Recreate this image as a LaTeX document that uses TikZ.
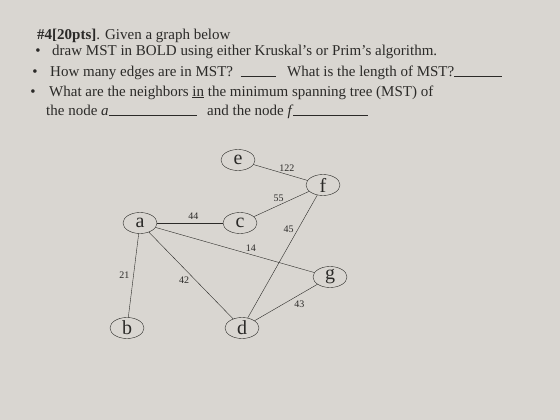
\documentclass[tikz,border=0pt]{standalone}
\usepackage{fontspec}
\setmainfont{Liberation Serif}
\usetikzlibrary{shapes.geometric}
\definecolor{hwpaper}{HTML}{D9D6D1}
\definecolor{hwink}{HTML}{2B2A28}
\tikzset{
  vtx/.style={ellipse,draw=hwink,thin,minimum width=34pt,minimum height=21pt,inner sep=0pt,text=hwink,font=\fontsize{20}{20}\selectfont},
  ln/.style={draw=hwink,thin},
  wt/.style={font=\fontsize{10}{10}\selectfont,inner sep=1pt,text=hwink},
  qline/.style={anchor=base west,inner sep=0pt,text=hwink,font=\fontsize{15}{17}\selectfont},
  blt/.style={qline,anchor=base},
}

\begin{document}
\begin{tikzpicture}[x=1pt,y=-1pt]
  \fill[hwpaper] (0,0) rectangle (560,420);
  \useasboundingbox (0,0) rectangle (560,420);
  % question text
  \node[qline] (title) at (37,40) {\textbf{\#4[20pts]}. Given a graph below};
  \node[blt] (b1) at (38,56) {\textbullet};
  \node[qline] (q1) at (52,56) {draw MST in BOLD using either Kruskal's or Prim's algorithm.};
  \node[blt] (b2) at (35,77) {\textbullet};
  \node[qline] (q2) at (50,77) {How many edges are in MST? \ \rule{35pt}{0.5pt}};
  \node[qline] (q2b) at (287,77) {What is the length of MST?\rule{48pt}{0.5pt}};
  \node[blt] (b3) at (33,96) {\textbullet};
  \node[qline] (q3) at (49,96) {What are the neighbors \underline{in} the minimum spanning tree (MST) of};
  \node[qline] (q4) at (46,115) {the node \textit{a}\rule{88pt}{0.5pt}};
  \node[qline] (q4b) at (207,115) {and the node \textit{f}\rule{75pt}{0.5pt}};
  % graph
  \node[vtx] (e) at (238,160) {e};
  \node[vtx] (f) at (323,185) {f};
  \node[vtx] (a) at (140,223) {a};
  \node[vtx] (c) at (240,223) {c};
  \node[vtx] (g) at (330,277) {g};
  \node[vtx] (b) at (127,328) {b};
  \node[vtx] (d) at (242,328) {d};
  \draw[ln] (e) -- node[wt,pos=0.62,above=2pt]{122} (f);
  \draw[ln] (c) -- node[wt,pos=0.45,above=2pt]{55} (f);
  \draw[ln] (a) -- node[wt,pos=0.55,above=2pt]{44} (c);
  \draw[ln] (f) -- node[wt,pos=0.28,left=3pt]{45} (d);
  \draw[ln] (a) -- node[wt,pos=0.6,above=2pt]{14} (g);
  \draw[ln] (a) -- node[wt,pos=0.5,left=3pt]{21} (b);
  \draw[ln] (a) -- node[wt,pos=0.55,left=5pt]{42} (d);
  \draw[ln] (g) -- node[wt,pos=0.4,below right=1pt]{43} (d);
\end{tikzpicture}
\end{document}
